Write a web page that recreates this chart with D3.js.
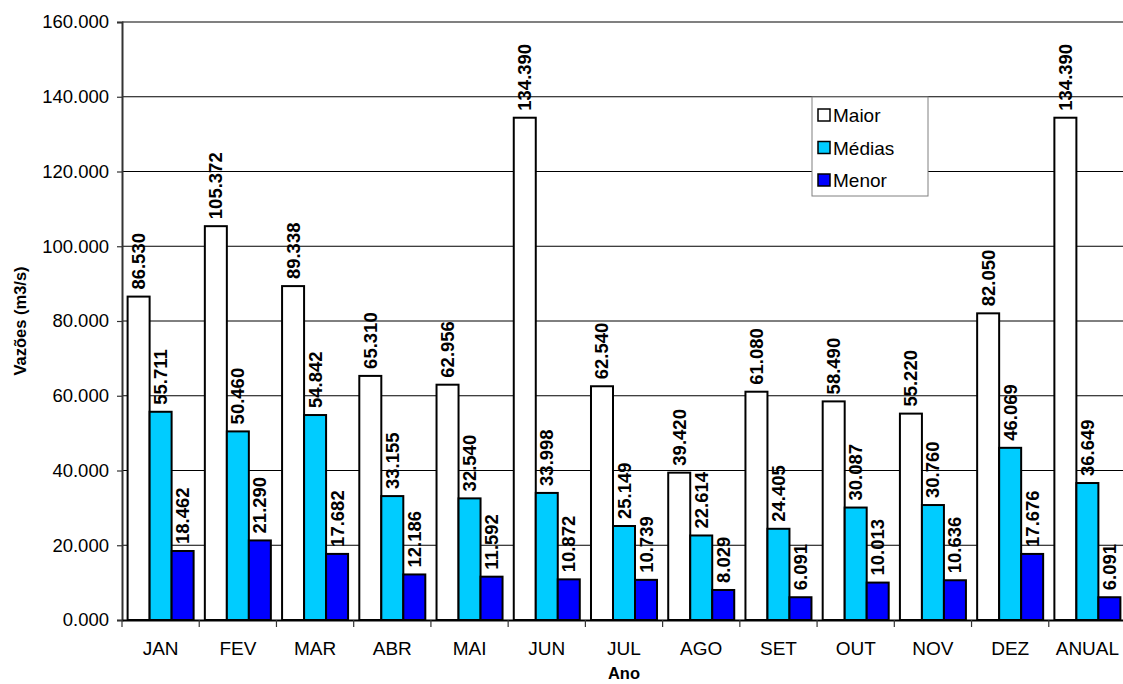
<!DOCTYPE html>
<html>
<head>
<meta charset="utf-8">
<script src="https://cdn.jsdelivr.net/npm/d3@7"></script>
<style>
  html, body { margin: 0; padding: 0; background: #fff; }
  svg { display: block; font-family: Arial, "Liberation Sans", sans-serif; }
</style>
</head>
<body>
<svg id="chart" width="1123" height="684"></svg>
<script>
// Monthly flow statistics (m3/s)
const months = ["JAN", "FEV", "MAR", "ABR", "MAI", "JUN", "JUL", "AGO", "SET", "OUT", "NOV", "DEZ", "ANUAL"];
const maior  = [86.530, 105.372, 89.338, 65.310, 62.956, 134.390, 62.540, 39.420, 61.080, 58.490, 55.220, 82.050, 134.390];
const medias = [55.711, 50.460, 54.842, 33.155, 32.540, 33.998, 25.149, 22.614, 24.405, 30.087, 30.760, 46.069, 36.649];
const menor  = [18.462, 21.290, 17.682, 12.186, 11.592, 10.872, 10.739, 8.029, 6.091, 10.013, 10.636, 17.676, 6.091];
const yTicks = [0, 20, 40, 60, 80, 100, 120, 140, 160];

const seriesNames = ["Maior", "Médias", "Menor"];
const seriesColors = ["#FFFFFF", "#00CCFF", "#0000FF"];
const seriesValues = [maior, medias, menor];

const margin = { left: 122, top: 22, right: 1126, bottom: 620 };
const svg = d3.select("#chart");
const fmt = v => d3.format(".3f")(v);

const x = d3.scaleBand().domain(months).range([margin.left, margin.right]).paddingInner(0).paddingOuter(0);
const inner = d3.scaleBand().domain(seriesNames).range([0, x.bandwidth()]).paddingInner(0).paddingOuter(0.255);
const y = d3.scaleLinear().domain([0, 160]).range([margin.bottom, margin.top]);

// Horizontal gridlines
svg.append("g")
  .selectAll("line")
  .data(yTicks.filter(t => t > 0 && t < 160))
  .join("line")
  .attr("x1", margin.left).attr("x2", margin.right)
  .attr("y1", d => y(d)).attr("y2", d => y(d))
  .attr("stroke", "#000").attr("stroke-width", 1);

// Top border of plot area
svg.append("line")
  .attr("x1", margin.left).attr("x2", margin.right)
  .attr("y1", y(160)).attr("y2", y(160))
  .attr("stroke", "#808080").attr("stroke-width", 2);

// Y axis
const yAxis = d3.axisLeft(y).tickValues(yTicks).tickSize(5).tickPadding(8).tickFormat(fmt);
const gy = svg.append("g").attr("transform", `translate(${margin.left},0)`).call(yAxis);
gy.select(".domain").attr("stroke", "#333").attr("stroke-width", 2);
gy.selectAll(".tick line").attr("stroke", "#333").attr("stroke-width", 1.2);
gy.selectAll(".tick text").attr("font-size", 18.5).attr("fill", "#000").attr("font-family", "Arial, 'Liberation Sans', sans-serif");

// Bars
const groups = svg.append("g")
  .selectAll("g")
  .data(months)
  .join("g")
  .attr("transform", d => `translate(${x(d)},0)`);

seriesNames.forEach((name, si) => {
  groups.append("rect")
    .attr("x", inner(name))
    .attr("width", inner.bandwidth())
    .attr("y", (d, i) => y(seriesValues[si][i]))
    .attr("height", (d, i) => y(0) - y(seriesValues[si][i]))
    .attr("fill", seriesColors[si])
    .attr("stroke", "#000")
    .attr("stroke-width", 2);

  groups.append("text")
    .attr("transform", (d, i) => {
      const cx = inner(name) + inner.bandwidth() / 2 + 6.5;
      const cy = y(seriesValues[si][i]) - 7;
      return `translate(${cx},${cy}) rotate(-90)`;
    })
    .attr("text-anchor", "start")
    .attr("font-size", 18.5)
    .attr("font-weight", "bold")
    .attr("fill", "#000")
    .text((d, i) => fmt(seriesValues[si][i]));
});

// X axis
const xAxis = d3.axisBottom(x).tickSize(0).tickPadding(22);
const gx = svg.append("g").attr("transform", `translate(0,${margin.bottom})`).call(xAxis);
gx.select(".domain").attr("stroke", "#000").attr("stroke-width", 2);
gx.selectAll(".tick text").attr("font-size", 19).attr("fill", "#000").attr("font-family", "Arial, 'Liberation Sans', sans-serif");
// Category separator ticks
svg.append("g")
  .selectAll("line")
  .data(months)
  .join("line")
  .attr("x1", d => x(d)).attr("x2", d => x(d))
  .attr("y1", margin.bottom).attr("y2", margin.bottom + 7)
  .attr("stroke", "#333").attr("stroke-width", 1.2);

// Axis titles
svg.append("text")
  .attr("transform", `translate(26,${(margin.top + margin.bottom) / 2}) rotate(-90)`)
  .attr("text-anchor", "middle")
  .attr("font-size", 16.5).attr("font-weight", "bold")
  .text("Vazões (m3/s)");

svg.append("text")
  .attr("x", (margin.left + margin.right) / 2)
  .attr("y", 679)
  .attr("text-anchor", "middle")
  .attr("font-size", 16.5).attr("font-weight", "bold")
  .text("Ano");

// Legend
const legend = svg.append("g").attr("transform", "translate(812,97)");
legend.append("rect")
  .attr("width", 116).attr("height", 99)
  .attr("fill", "#fff").attr("stroke", "#808080").attr("stroke-width", 1);
seriesNames.forEach((name, i) => {
  const row = legend.append("g").attr("transform", `translate(6,${18 + i * 32.5})`);
  row.append("rect").attr("x", 0).attr("y", -6).attr("width", 12).attr("height", 12)
    .attr("fill", seriesColors[i]).attr("stroke", "#000").attr("stroke-width", 1.5);
  row.append("text").attr("x", 15).attr("y", 7)
    .attr("font-size", 19).attr("fill", "#000").text(name);
});
</script>
</body>
</html>
